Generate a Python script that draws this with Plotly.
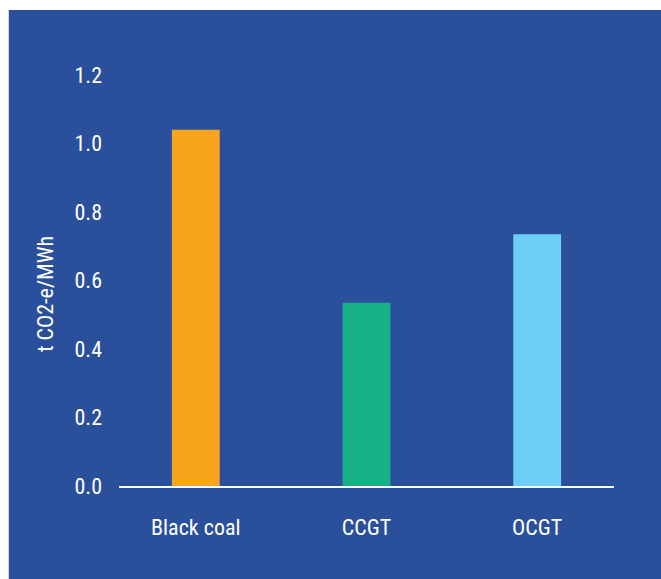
import plotly.graph_objects as go

categories = ["Black coal", "CCGT", "OCGT"]
values = [1.04, 0.535, 0.735]
bar_colors = ["#F8A51D", "#18B085", "#6DCFF6"]
y_ticks = [0.0, 0.2, 0.4, 0.6, 0.8, 1.0, 1.2]
y_title = "t CO2-e/MWh"

BLUE = "#2B509B"
FONT = "Liberation Sans Narrow, Roboto Condensed, Roboto, sans-serif"

W, H = 661, 579
L, R, T, B = 119, 47, 75, 93
pw, ph = W - L - R, H - T - B


def px_x(p):
    return (p - L) / pw


def px_y(p):
    return (T + ph - p) / ph


fig = go.Figure(go.Bar(
    x=categories, y=values, marker=dict(color=bar_colors, line=dict(width=0)),
    width=0.28, hoverinfo="skip",
))

fig.update_layout(
    width=W, height=H,
    margin=dict(l=L, r=R, t=T, b=B, pad=0),
    paper_bgcolor=BLUE,
    plot_bgcolor=BLUE,
    showlegend=False,
    font=dict(family=FONT, size=22, color="white"),
    shapes=[
        dict(type="rect", xref="paper", yref="paper", layer="above",
             x0=px_x(-2), x1=px_x(W + 2), y0=px_y(10), y1=px_y(-2),
             fillcolor="white", line=dict(width=0)),
        dict(type="rect", xref="paper", yref="paper", layer="above",
             x0=px_x(-2), x1=px_x(8), y0=px_y(H + 2), y1=px_y(-2),
             fillcolor="white", line=dict(width=0)),
        dict(type="line", xref="paper", yref="paper", layer="above",
             x0=px_x(8.5), x1=px_x(8.5), y0=px_y(H + 2), y1=px_y(10),
             line=dict(color="#D8D8D8", width=1)),
    ],
    annotations=[dict(
        text=y_title, xref="paper", yref="paper",
        x=px_x(45), y=px_y(294),
        showarrow=False, textangle=-90, xanchor="center", yanchor="middle",
        font=dict(family=FONT, size=22, color="white"),
    )],
)
fig.update_xaxes(
    range=[-0.45, 2.45], showgrid=False, zeroline=False,
    showline=True, linecolor="white", linewidth=1.5,
    ticks="", ticklabelstandoff=21,
    tickfont=dict(family=FONT, size=22, color="white"),
)
fig.update_yaxes(
    range=[0, 1.2], showgrid=False, zeroline=False, showline=False,
    tickvals=y_ticks, ticktext=[f"{v:.1f}" for v in y_ticks],
    ticks="", ticklabelstandoff=16,
    tickfont=dict(family=FONT, size=22, color="white"),
)

fig.write_html(
    "out.html",
    config={"displayModeBar": False},
    post_script="document.body.style.margin='0';document.body.style.overflow='hidden';",
)
